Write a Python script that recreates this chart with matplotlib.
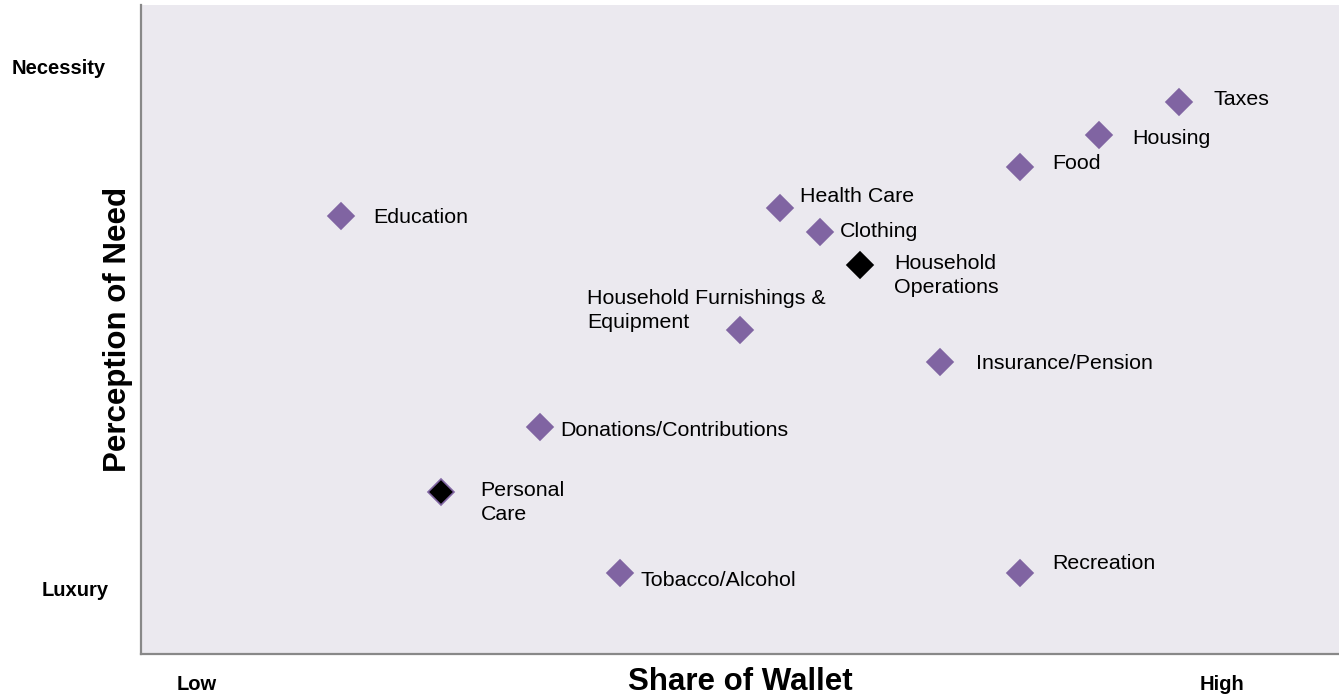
import matplotlib.pyplot as plt

plt.rcParams['font.family'] = ['Liberation Sans', 'DejaVu Sans']

# spending categories: share of wallet (x) vs perception of need (y)
categories = ["Education", "Personal\nCare", "Donations/Contributions", "Tobacco/Alcohol",
              "Household Furnishings &\nEquipment", "Health Care", "Clothing",
              "Household\nOperations", "Insurance/Pension", "Food", "Recreation",
              "Housing", "Taxes"]
share_of_wallet = [5, 7.5, 10, 12, 15, 16, 17, 18, 20, 22, 22, 24, 26]
perception_of_need = [27, 10, 14, 5, 20, 27.5, 26, 24, 18, 30, 5, 32, 34]
highlighted = ["Personal\nCare", "Household\nOperations"]

# label offsets in pixels (dx, dy), dy positive = up
offsets = {
    "Education": (33, -2),
    "Personal\nCare": (40, -11),
    "Donations/Contributions": (20, -4),
    "Tobacco/Alcohol": (20, -8),
    "Household Furnishings &\nEquipment": (-153, 19),
    "Health Care": (20, 11),
    "Clothing": (20, 1),
    "Household\nOperations": (34, -11),
    "Insurance/Pension": (36, -2),
    "Food": (33, 4),
    "Recreation": (33, 9),
    "Housing": (33, -4),
    "Taxes": (34, 3),
}

purple = "#8064A2"

fig = plt.figure(figsize=(13.39, 6.94), dpi=100)
ax = fig.add_axes([141 / 1339, 40 / 694, 1198 / 1339, 649 / 694])
ax.set_facecolor("#EBE9EF")

for name, x, y in zip(categories, share_of_wallet, perception_of_need):
    face = "black" if name in highlighted else purple
    edge = purple if name == "Personal\nCare" else face
    ax.plot(x, y, marker="D", markersize=13, color=face, markeredgecolor=edge,
            markeredgewidth=1.2, linestyle="none")
    dx, dy = offsets[name]
    ax.annotate(name, (x, y), xytext=(dx, dy), textcoords="offset pixels",
                ha="left", va="center", fontsize=15.4, color="black", linespacing=1.3)

ax.set_xlim(0, 30)
ax.set_ylim(0, 40)
ax.set_xticks([])
ax.set_yticks([])
for side in ["top", "right"]:
    ax.spines[side].set_visible(False)
for side in ["left", "bottom"]:
    ax.spines[side].set_color("#888888")
    ax.spines[side].set_linewidth(1.6)

ax.set_xlabel("Share of Wallet", fontsize=22.5, fontweight="bold", labelpad=9)
ax.set_ylabel("Perception of Need", fontsize=22.5, fontweight="bold", labelpad=6)

fig.text(59 / 1339, 1 - 68 / 694, "Necessity", ha="center", va="center",
         fontsize=14.5, fontweight="bold")
fig.text(75 / 1339, 1 - 590 / 694, "Luxury", ha="center", va="center",
         fontsize=14.5, fontweight="bold")
fig.text(197 / 1339, 1 - 684 / 694, "Low", ha="center", va="center",
         fontsize=14.5, fontweight="bold")
fig.text(1222 / 1339, 1 - 684 / 694, "High", ha="center", va="center",
         fontsize=14.5, fontweight="bold")

fig.savefig("out.png", dpi=100)
